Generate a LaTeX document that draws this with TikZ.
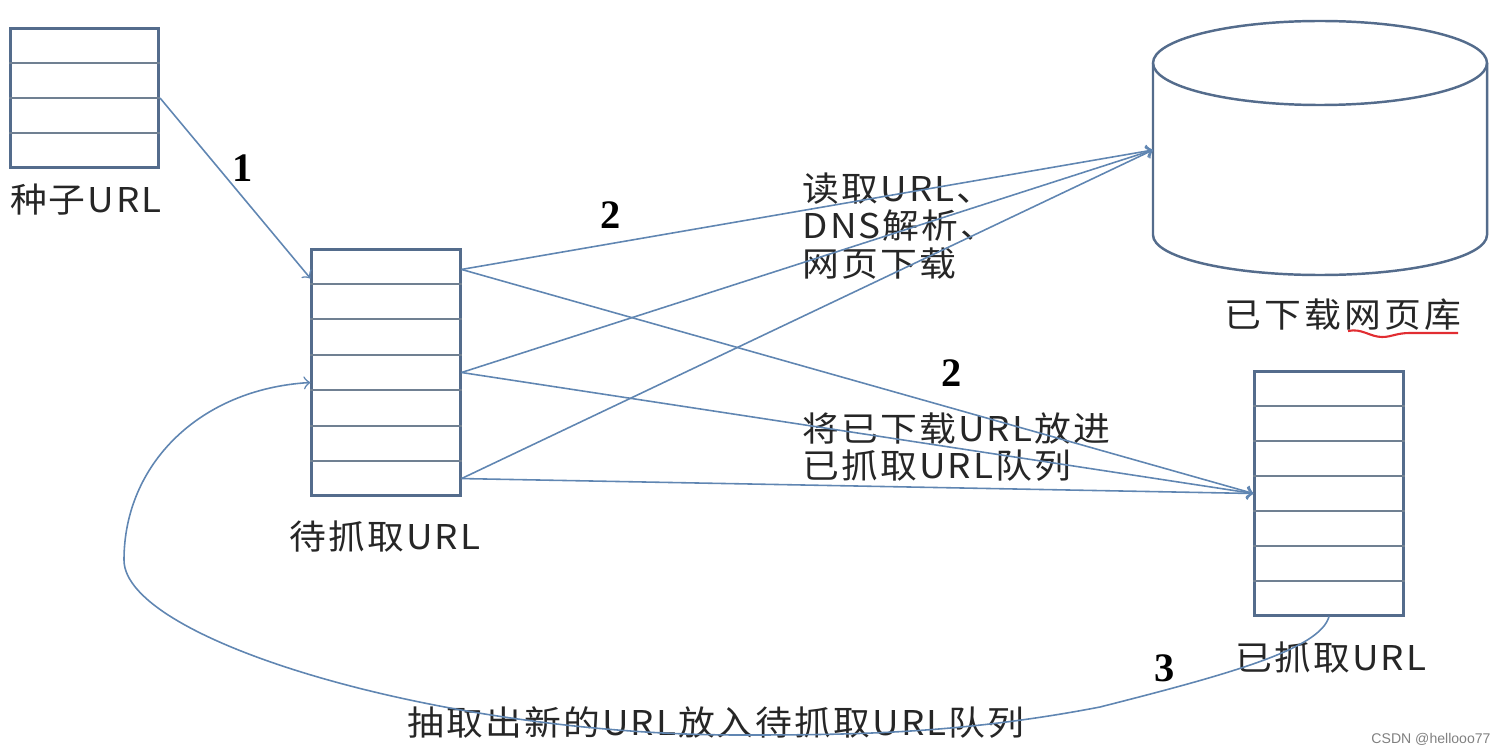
\documentclass[tikz,border=0pt]{standalone}
\usepackage{fontspec}
\usepackage{tikz}
\usetikzlibrary{calc}
\newfontfamily\cjk[FakeStretch=1.08,LetterSpace=6]{Noto Sans CJK SC}
\newfontfamily\cjkwide[FakeStretch=1.08,LetterSpace=9]{Noto Sans CJK SC}
\newfontfamily\numfont{Liberation Serif}
\newfontfamily\markfont{Liberation Sans}
\definecolor{boxblue}{RGB}{84,108,140}
\definecolor{rowgray}{RGB}{112,128,146}
\definecolor{linkblue}{RGB}{96,134,178}
\definecolor{textgray}{RGB}{38,38,38}
\definecolor{penred}{RGB}{225,45,50}

\begin{document}
\begin{tikzpicture}[x=0.01cm,y=0.01cm,
  queue/.style={draw=boxblue,line width=0.85pt,fill=white,inner sep=0pt,minimum width=1.48cm},
  rowline/.style={draw=rowgray,line width=0.6pt},
  dbline/.style={draw=boxblue,line width=0.7pt},
  link/.style={draw=linkblue,line width=0.45pt,->},
  lbl/.style={text=textgray,inner sep=0pt,font=\cjk\fontsize{9.7pt}{10.6pt}\selectfont},
  num/.style={inner sep=0pt,font=\numfont\bfseries\fontsize{11.5pt}{12pt}\selectfont}]
  \useasboundingbox (0,0) rectangle (1506,754);
  \node[queue,minimum height=1.38cm] (seed) at (84.5,656) {};
  \node[queue,minimum height=2.45cm] (todo) at (386,381.5) {};
  \node[queue,minimum height=2.43cm] (done) at (1329,260.5) {};
  \foreach \i in {1,...,3}
    \draw[rowline] ($(seed.north west)!\i/4!(seed.south west)$) -- ($(seed.north east)!\i/4!(seed.south east)$);
  \foreach \q in {todo,done}
    \foreach \i in {1,...,6}
      \draw[rowline] ($(\q.north west)!\i/7!(\q.south west)$) -- ($(\q.north east)!\i/7!(\q.south east)$);
  \draw[dbline] (1320,691) ellipse[x radius=167,y radius=42];
  \draw[dbline] (1153,691) -- (1153,519) arc[start angle=180,end angle=360,x radius=167,y radius=40] -- (1487,691);
  \coordinate (dbin) at (1153,604);
  \coordinate (s1) at ([yshift=-0.21cm]todo.north east);
  \coordinate (s2) at (todo.east);
  \coordinate (s3) at ([yshift=0.18cm]todo.south east);
  \node[lbl] (seedlbl) at (86,554) {种子URL};
  \node[lbl] (todolbl) at (385,217) {待抓取URL};
  \node[lbl,font=\cjkwide\fontsize{9.7pt}{10.6pt}\selectfont] (dblbl) at (1343,439) {已下载网页库};
  \node[lbl] (donelbl) at (1331,96) {已抓取URL};
  \node[lbl,anchor=west,align=left] (fetchlbl) at (802,528) {读取URL、\\DNS解析、\\网页下载};
  \node[lbl,anchor=west,align=left] (movelbl) at (802,307) {将已下载URL放进\\已抓取URL队列};
  \node[lbl] (looplbl) at (716,31) {抽取出新的URL放入待抓取URL队列};
  \node[num] (n1) at (243,586) {1};
  \node[num] (n2a) at (611,539) {2};
  \node[num] (n2b) at (952,381) {2};
  \node[num] (n3) at (1165,86) {3};
  \node[text=gray,inner sep=0pt,font=\markfont\fontsize{4pt}{5pt}\selectfont] (mark) at (1431,15) {CSDN @hellooo77};
  \draw[link] (seed.east) -- ([yshift=-0.3cm]todo.north west);
  \foreach \s in {s1,s2,s3} {
    \draw[link] (\s) -- (dbin);
    \draw[link] (\s) -- (done.west);
  }
  \draw[link] (done.south) .. controls (1320,105) and (1230,80) .. (1100,47)
    .. controls (960,20) and (850,19) .. (740,19)
    .. controls (440,19) and (124,114) .. (124,194)
    .. controls (124,290) and (200,365) .. ([yshift=-0.1cm]todo.west);
  \draw[penred,line width=0.6pt] (1348,423) .. controls (1362,426) and (1370,417) .. (1382,417)
    .. controls (1392,417) and (1396,421) .. (1410,421) -- (1458,421);
\end{tikzpicture}
\end{document}
